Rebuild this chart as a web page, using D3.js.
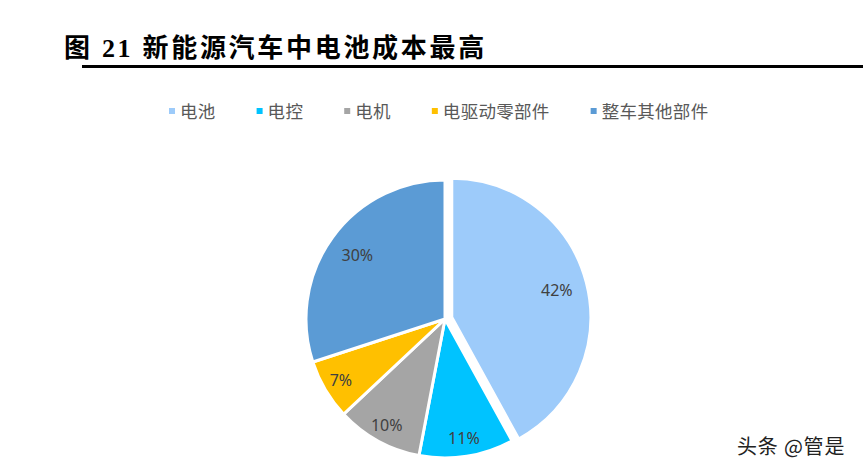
<!DOCTYPE html>
<html><head><meta charset="utf-8">
<script src="https://cdn.jsdelivr.net/npm/d3@7/dist/d3.min.js"></script>
<style>html,body{margin:0;padding:0;background:#fff;}</style>
</head><body>
<svg id="c" width="863" height="472"></svg>
<script>
const categories = ["电池", "电控", "电机", "电驱动零部件", "整车其他部件"];
const values = [42, 11, 10, 7, 30];
const labels = ["42%", "11%", "10%", "7%", "30%"];
const colors = ["#9DCBFA", "#00C3FF", "#A5A5A5", "#FFC000", "#5B9BD5"];
const explode = [7, 0, 0, 0, 0];

const svg = d3.select("#c");
const cjk = "'Noto Sans CJK SC', 'Noto Sans', sans-serif";

// Title
svg.append("text").attr("x", 64).attr("y", 57)
  .attr("font-family", "'Liberation Serif', 'Noto Sans CJK SC', serif")
  .attr("font-weight", "bold").attr("font-size", 26).attr("letter-spacing", 2.7)
  .attr("fill", "#000").text("图 21 新能源汽车中电池成本最高");
svg.append("line").attr("x1", 82).attr("x2", 863).attr("y1", 66.5).attr("y2", 66.5)
  .attr("stroke", "#000").attr("stroke-width", 3);

// Legend
const lg = svg.append("g");
let cx = 169;
categories.forEach((c, i) => {
  lg.append("rect").attr("x", cx).attr("y", 108).attr("width", 6).attr("height", 6).attr("fill", colors[i]);
  const t = lg.append("text").attr("x", cx + 11).attr("y", 117.5)
    .attr("font-family", cjk).attr("font-size", 17.5).attr("letter-spacing", 0.3)
    .attr("fill", "#595959").text(c);
  cx += 11 + t.node().getComputedTextLength() + 41;
});

// Pie
const R = 139, C = [445, 319];
const pie = d3.pie().sort(null).value(d => d)(values);
const arc = d3.arc().innerRadius(0).outerRadius(R);
const labR = d => R * (d.value >= 30 ? 0.78 : 0.87);
const g = svg.append("g").attr("transform", `translate(${C[0]},${C[1]})`);
const sl = g.selectAll("g.s").data(pie).join("g").attr("class", "s")
  .attr("transform", (d, i) => {
    const a = (d.startAngle + d.endAngle) / 2;
    return `translate(${explode[i] * Math.sin(a)},${-explode[i] * Math.cos(a)})`;
  });
sl.append("path").attr("d", arc).attr("fill", (d, i) => colors[i])
  .attr("stroke", "#fff").attr("stroke-width", 3).attr("stroke-linejoin", "round");
sl.append("text").attr("transform", d => {
    const a = (d.startAngle + d.endAngle) / 2, r = labR(d);
    return `translate(${r * Math.sin(a)},${-r * Math.cos(a)})`;
  })
  .attr("text-anchor", "middle").attr("dy", "0.35em")
  .attr("font-family", "'Noto Sans', sans-serif").attr("font-size", 16)
  .attr("fill", "#404040").text((d, i) => labels[i]);

// Watermark
const wm = "头条 @管是";
svg.append("text").attr("x", 737).attr("y", 454)
  .attr("font-family", cjk).attr("font-size", 20).attr("letter-spacing", 0.8).attr("fill", "#fff")
  .attr("stroke", "#fff").attr("stroke-width", 3).text(wm);
svg.append("text").attr("x", 737).attr("y", 454)
  .attr("font-family", cjk).attr("font-size", 20).attr("letter-spacing", 0.8).attr("fill", "#222").text(wm);
</script>
</body></html>
